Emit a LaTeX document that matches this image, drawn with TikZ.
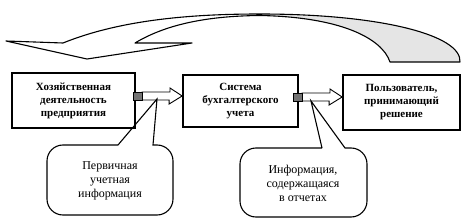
\documentclass[tikz,border=0pt]{standalone}
\usepackage{fontspec}
\setmainfont{Liberation Serif}
\begin{document}
\begin{tikzpicture}[x=1pt,y=-1pt,
  box/.style={draw,line width=1.7pt,align=center,font=\fontsize{11}{13}\selectfont\bfseries,inner sep=0pt},
  ctext/.style={align=center,font=\fontsize{12}{14}\selectfont},
  blockarrow/.style={draw,line width=0.9pt,fill=white},
  stub/.style={draw,line width=0.9pt,fill=black!55},
  callout/.style={draw,line width=1.1pt},
  bigarrow/.style={draw,line width=1.1pt,line join=round}]
\useasboundingbox (0,0) rectangle (469,222);
% boxes
\node[box,minimum width=123pt,minimum height=55pt] (b1) at (73.5,100.5) {Хозяйственная\\деятельность\\предприятия};
\node[box,minimum width=115pt,minimum height=52pt] (b2) at (240.5,101) {Система\\бухгалтерского\\учета};
\node[box,minimum width=117pt,minimum height=55pt] (b3) at (401.5,102.5) {Пользователь,\\принимающий\\решение};
% block arrows
\coordinate (a1) at (133,96);
\coordinate (a2) at (293,97);
\draw[blockarrow] (a1) ++(9,-4) -- ++(28,0) -- ++(0,-4) -- (b2.west |- a1) -- ++(-13,8) -- ++(0,-4) -- ++(-28,0) -- cycle;
\draw[stub] (a1) ++(0,-4) rectangle ++(9,8);
\draw[blockarrow] (a2) ++(9,-4) -- ++(28,0) -- ++(0,-4) -- (b3.west |- a2) -- ++(-13,8) -- ++(0,-4) -- ++(-28,0) -- cycle;
\draw[stub] (a2) ++(0,-4) rectangle ++(9,8);
% callouts
\coordinate (p1) at (157,99);
\coordinate (p2) at (311,101);
\draw[callout] (118,145) -- (p1) -- (153,145) [rounded corners=16pt] -- (173,145) -- (173,215) -- (47,215) -- (47,145) -- (118,145);
\node[ctext] (c1) at (110,181) {Первичная\\учетная\\информация};
\draw[callout] (322,148) -- (p2) -- (345,148) [rounded corners=16pt] -- (367,148) -- (367,217) -- (240,217) -- (240,148) -- (322,148);
\node[ctext] (c2) at (303,183) {Информация,\\содержащаяся\\в отчетах};
% big curved arrow
\fill[black!10] (260,14) .. controls (380,14) and (462,35) .. (460,62) -- (390,62) .. controls (382,38) and (340,17) .. (260,15.5) -- cycle;
\draw[bigarrow] (6,41) -- (63,43) .. controls (120,20) and (190,14) .. (260,14)
  .. controls (380,14) and (462,35) .. (460,62) -- (390,62)
  .. controls (382,38) and (340,17) .. (260,15.5)
  .. controls (205,16) and (165,25) .. (135,43) -- (192,43) -- (87,59) -- cycle;
\end{tikzpicture}
\end{document}
